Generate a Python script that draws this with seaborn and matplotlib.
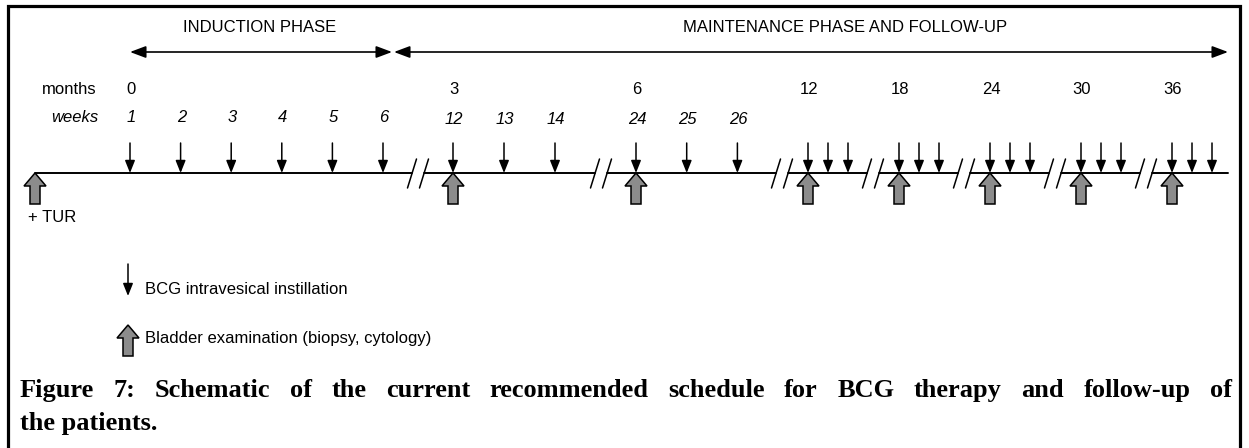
import matplotlib
matplotlib.use("Agg")
import matplotlib.pyplot as plt
from matplotlib.patches import Polygon
import seaborn as sns
import pandas as pd

# schedule data
induction_weeks = [1, 2, 3, 4, 5, 6]
maint_3mo_weeks = [12, 13, 14]
maint_6mo_weeks = [24, 25, 26]
followup_months = [12, 18, 24, 30, 36]
followup_instillations = 3          # weekly instillations at each follow-up visit
month_labels = ["0", "3", "6", "12", "18", "24", "30", "36"]
phase_labels = ["INDUCTION PHASE", "MAINTENANCE PHASE AND FOLLOW-UP"]
legend_labels = ["BCG intravesical instillation", "Bladder examination (biopsy, cytology)"]
caption_line1 = "Figure 7: Schematic of the current recommended schedule for BCG therapy and follow-up of"
caption_line2 = "the patients."

# layout (pixel space, y down)
W, H = 1249, 448
Y_LINE, Y_TOP_ARROW = 173, 143
Y_MONTH, Y_WEEK = 89, 118
week_blocks = [(induction_weeks, 130, 50.6), (maint_3mo_weeks, 453, 51.0), (maint_6mo_weeks, 636, 50.7)]
FU_X0, FU_STEP, FU_INSTILL_STEP = 808, 91, 20

sns.set_style("white")
plt.rcParams["font.family"] = ["Liberation Sans", "DejaVu Sans"]
plt.rcParams["text.color"] = "black"

fig = plt.figure(figsize=(W / 100, H / 100), dpi=100)
ax = fig.add_axes([0, 0, 1, 1])


def small_arrow(x, y0, y1):
    ax.annotate("", xy=(x, y1), xytext=(x, y0),
                arrowprops=dict(arrowstyle="-|>,head_length=0.75,head_width=0.3",
                                mutation_scale=10, lw=1.1, color="black",
                                shrinkA=0, shrinkB=0))


def big_arrow(x, tip):
    pts = [(x, tip), (x + 11, tip + 13), (x + 5, tip + 13), (x + 5, tip + 31),
           (x - 5, tip + 31), (x - 5, tip + 13), (x - 11, tip + 13)]
    ax.add_patch(Polygon(pts, closed=True, facecolor="#8c8c8c", edgecolor="black",
                         lw=1.1, zorder=5))


# positions of every instillation, exam and break
instill_x, exam_x, break_x, month_x, week_items = [], [], [], [], []
for i, (weeks, x0, step) in enumerate(week_blocks):
    xs = [x0 + (w - weeks[0]) * step for w in weeks]
    instill_x += xs
    month_x.append(xs[0])
    week_items += list(zip(weeks, xs, [Y_WEEK - 1 if i == 0 else Y_WEEK + 1] * len(xs)))
    if i > 0:
        exam_x.append(xs[0])
        break_x.append(xs[0] - 35)
for j, m in enumerate(followup_months):
    x0 = FU_X0 + (m - followup_months[0]) / 6 * FU_STEP
    instill_x += [x0 + k * FU_INSTILL_STEP for k in range(followup_instillations)]
    exam_x.append(x0)
    month_x.append(x0)
    break_x.append(x0 - 26)

# timeline segments interrupted by the // breaks
edges = [35] + [v for b in break_x for v in (b - 6, b + 6)] + [1228]
seg = pd.DataFrame({
    "x": edges,
    "y": [Y_LINE] * len(edges),
    "seg": [k // 2 for k in range(len(edges))],
})
sns.lineplot(data=seg, x="x", y="y", units="seg", estimator=None, color="black",
             lw=1.4, ax=ax, legend=False, sort=False)
ax.set_xlim(0, W)
ax.set_ylim(H, 0)
ax.axis("off")
for b in break_x:
    for dx in (-6, 6):
        ax.plot([b + dx - 4.5, b + dx + 4.5], [188, 159], color="black", lw=1.1)

for x in instill_x:
    small_arrow(x, Y_TOP_ARROW, Y_LINE)
for x in exam_x:
    big_arrow(x, Y_LINE)
big_arrow(35, Y_LINE)
ax.text(28, 217, "+ TUR", fontsize=12, va="center", ha="left")

# labels
ax.text(97, Y_MONTH, "months", fontsize=12, ha="right", va="center")
ax.text(98, Y_WEEK - 1, "weeks", fontsize=12, ha="right", va="center", style="italic")
for lab, x in zip(month_labels, month_x):
    ax.text(x + 1, Y_MONTH, lab, fontsize=12, ha="center", va="center")
for w, x, y in week_items:
    ax.text(x + 1, y, str(w), fontsize=12, ha="center", va="center", style="italic")

# phase arrows
ax.text(260, 27, phase_labels[0], fontsize=12, ha="center", va="center")
ax.text(845, 27, phase_labels[1], fontsize=12, ha="center", va="center")
for x0, x1 in [(130, 392), (394, 1228)]:
    ax.annotate("", xy=(x1, 52), xytext=(x0, 52),
                arrowprops=dict(arrowstyle="<|-|>,head_length=0.8,head_width=0.3",
                                mutation_scale=12, lw=1.2, color="black",
                                shrinkA=0, shrinkB=0))

# legend
small_arrow(128, 264, 296)
ax.text(145, 290, legend_labels[0], fontsize=12, va="center", ha="left")
big_arrow(128, 325)
ax.text(145, 339, legend_labels[1], fontsize=12, va="center", ha="left")

# frame
ax.plot([8.5, 8.5, 1240.5, 1240.5], [460, 6.5, 6.5, 460], color="black", lw=2.3,
        solid_joinstyle="miter")

# caption, justified first line
cap_kw = dict(fontsize=19, fontweight="bold", family="Liberation Serif", va="baseline",
              color="black")
words = caption_line1.split(" ")
renderer = fig.canvas.get_renderer()
texts = [ax.text(0, 397, w, ha="left", **cap_kw) for w in words]
widths = [t.get_window_extent(renderer).width for t in texts]
gap = (1232 - 20 - sum(widths)) / (len(words) - 1)
x = 20
for t, wd in zip(texts, widths):
    t.set_x(x)
    x += wd + gap
ax.text(20, 430, caption_line2, ha="left", **cap_kw)

fig.savefig("out.png", dpi=100)
